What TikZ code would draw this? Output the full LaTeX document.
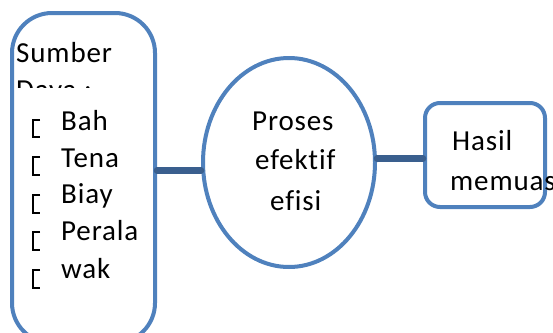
\documentclass[tikz,border=0pt]{standalone}
\usepackage{fontspec}
\setmainfont{Carlito}[Ligatures=NoCommon, LetterSpace=3]
\usetikzlibrary{positioning,shapes.geometric}

\definecolor{boxblue}{HTML}{4F81BD}
\definecolor{linkblue}{HTML}{3A5F8E}

\tikzset{
  box/.style={draw=boxblue, line width=4pt, fill=white, inner sep=0pt},
  link/.style={draw=linkblue, line width=6.5pt, line cap=round},
  txt/.style={inner sep=0pt, anchor=base west, font=\fontsize{29}{40}\selectfont},
  brk/.style={draw=black, line width=1.8pt}
}

\begin{document}
\begin{tikzpicture}[x=1pt, y=-1pt]

\useasboundingbox (0,0) rectangle (553,332);
\clip (0,0) rectangle (553,332);

%\draw (0,0) grid (553,332);

\node[box, rounded corners=40pt, minimum width=143pt, minimum height=330pt] (sumber) at (83.5,178) {};
\node[box, ellipse, minimum width=172pt, minimum height=209pt] (proses) at (289,162.5) {};
\node[box, rounded corners=15pt, minimum width=120pt, minimum height=104pt] (hasil) at (485,155) {};

\coordinate (p1) at ([yshift=-8pt]proses.west);
\coordinate (p2) at ([yshift=4pt]proses.east);
\draw [link] (sumber.east |- p1) -- (p1);
\draw [link] (p2) -- (hasil.west |- p2);

% resource list
\node[txt] (title) at (16,62) {Sumber};
\begin{scope}
  \clip (10,66) rectangle (150,87);
  \node[txt] (daya) at (16,99) {Daya :};
\end{scope}

\draw [brk] (40,120) -- (33,120) -- (33,137) -- (40,137);
\draw [brk] (40,157) -- (33,157) -- (33,175) -- (40,175);
\draw [brk] (40,195) -- (33,195) -- (33,213) -- (40,213);
\draw [brk] (40,232) -- (33,232) -- (33,250) -- (40,250);
\draw [brk] (40,270) -- (33,270) -- (33,288) -- (40,288);

\node[txt] (bah) at (61,130) {Bah};
\node[txt] (tena) at (61,167) {Tena};
\node[txt] (biay) at (61,203) {Biay};
\node[txt] (perala) at (61,240) {Perala};
\node[txt] (wak) at (61,278) {wak};

% process and result
\node[txt] (l1) at (252,130) {Proses};
\node[txt] (l2) at (255,169) {efektif};
\node[txt] (l3) at (270,210) {efisi};

\node[txt] (r1) at (452,150) {Hasil};
\node[txt] (r2) at (450,190) {memuas};

\end{tikzpicture}
\end{document}
